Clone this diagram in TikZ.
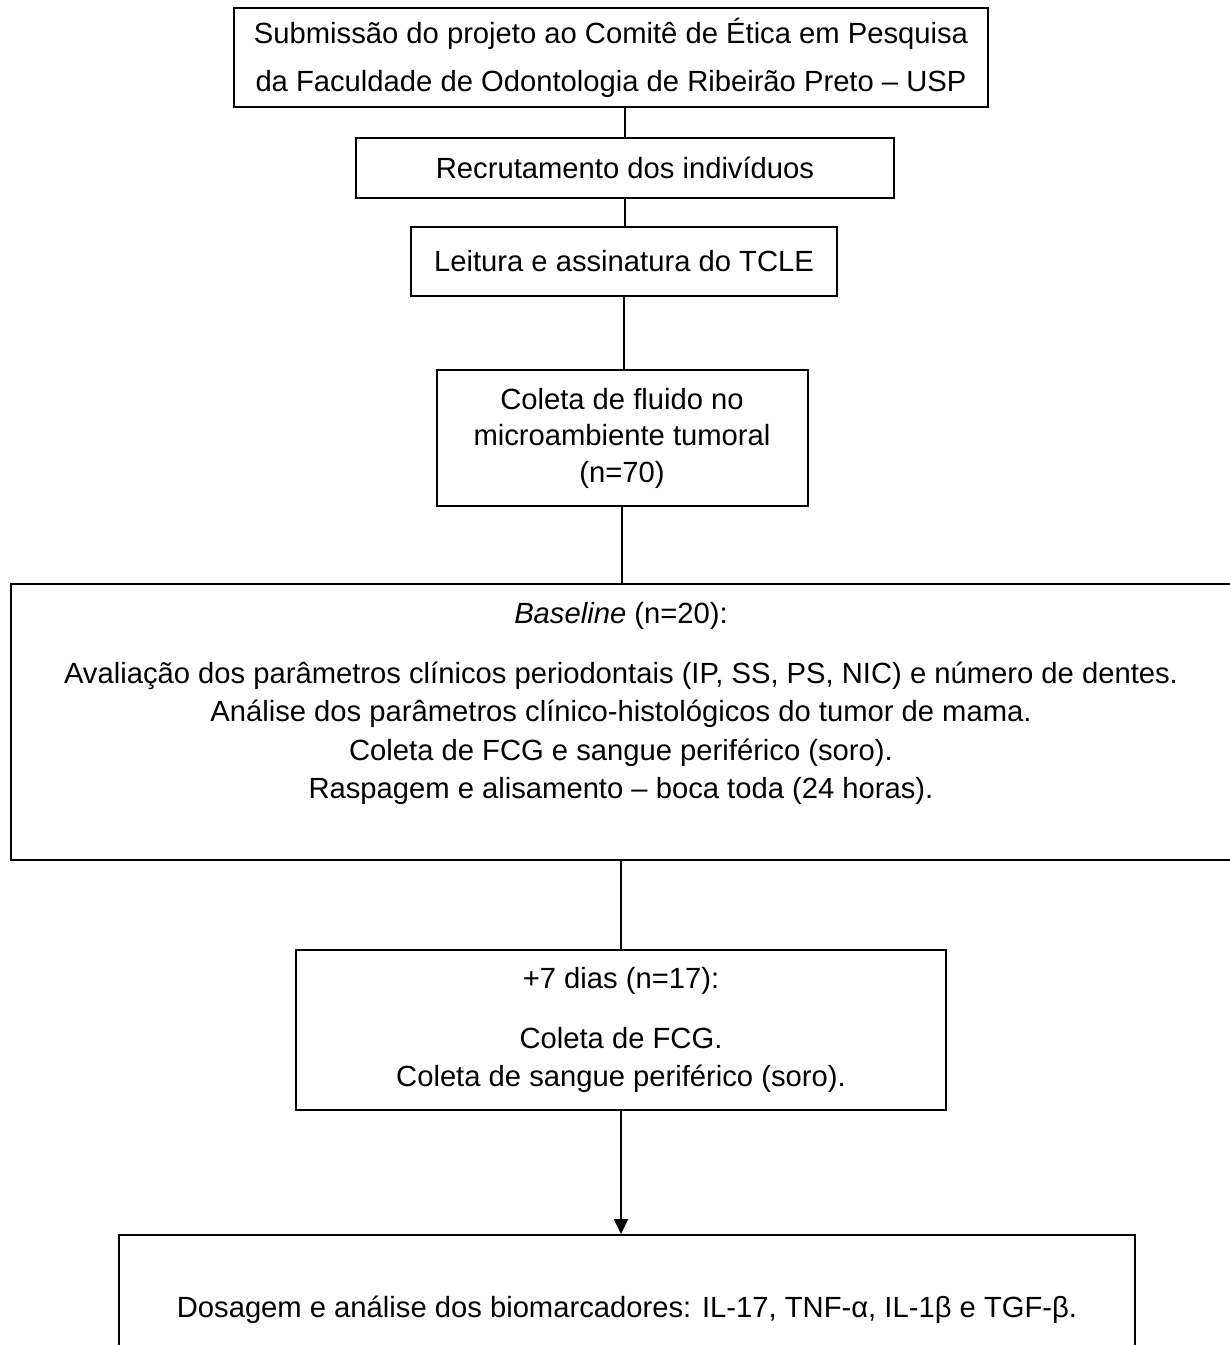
\documentclass[tikz,border=0pt]{standalone}
\usepackage{fontspec}
\setmainfont{Liberation Sans}
\usetikzlibrary{arrows.meta}
\begin{document}
\begin{tikzpicture}[x=1pt,y=-1pt,
  box/.style={draw=black, line width=2pt, rectangle, inner sep=0pt, align=center,
    font=\fontsize{29.2}{38}\selectfont},
  txt/.style={inner sep=0pt, align=center, font=\fontsize{29.2}{38.5}\selectfont},
  conn/.style={draw=black, line width=2pt},
  arr/.style={conn, -{Triangle[width=14pt,length=15pt]}}]
\useasboundingbox (0,0) rectangle (1230,1345);
\fill[white] (0,0) rectangle (1230,1345);
\clip (0,0) rectangle (1230,1345);

\node[box, minimum width=754pt, minimum height=99pt, font=\fontsize{29.2}{48}\selectfont] (top) at (611,57.5)
  {Submissão do projeto ao Comitê de Ética em Pesquisa\\da Faculdade de Odontologia de Ribeirão Preto – USP};
\node[box, minimum width=538pt, minimum height=60pt] (rec) at (625,168) {Recrutamento dos indivíduos};
\node[box, minimum width=426pt, minimum height=69pt] (leit) at (624,261.5) {Leitura e assinatura do TCLE};
\node[box, minimum width=371pt, minimum height=136pt, font=\fontsize{29.2}{36.5}\selectfont] (col) at (622,438)
  {Coleta de fluido no\\microambiente tumoral\\(n=70)};
\node[box, minimum width=1221pt, minimum height=276pt] (base) at (621.5,722) {};
\node[txt] (basetxt) at (621,703.5)
  {\textit{Baseline} (n=20):\\[21.5pt]
   Avaliação dos parâmetros clínicos periodontais (IP, SS, PS, NIC) e número de dentes.\\
   Análise dos parâmetros clínico-histológicos do tumor de mama.\\
   Coleta de FCG e sangue periférico (soro).\\
   Raspagem e alisamento – boca toda (24 horas).};
\node[box, minimum width=650pt, minimum height=160pt] (plus) at (621,1030)
  {+7 dias (n=17):\\[22pt]Coleta de FCG.\\Coleta de sangue periférico (soro).};
\node[box, minimum width=1016pt, minimum height=150pt] (dos) at (627,1310)
  {Dosagem e análise dos biomarcadores: IL-17, TNF-α, IL-1β e TGF-β.};

\draw[conn] (top.south -| rec.north) -- (rec.north);
\draw[conn] (rec.south) -- (rec.south |- leit.north);
\draw[conn] (leit.south) -- (leit.south |- col.north);
\draw[conn] (col.south) -- (col.south |- base.north);
\draw[conn] (base.south -| plus.north) -- (plus.north);
\draw[arr] (plus.south) -- (plus.south |- dos.north);
\end{tikzpicture}
\end{document}
